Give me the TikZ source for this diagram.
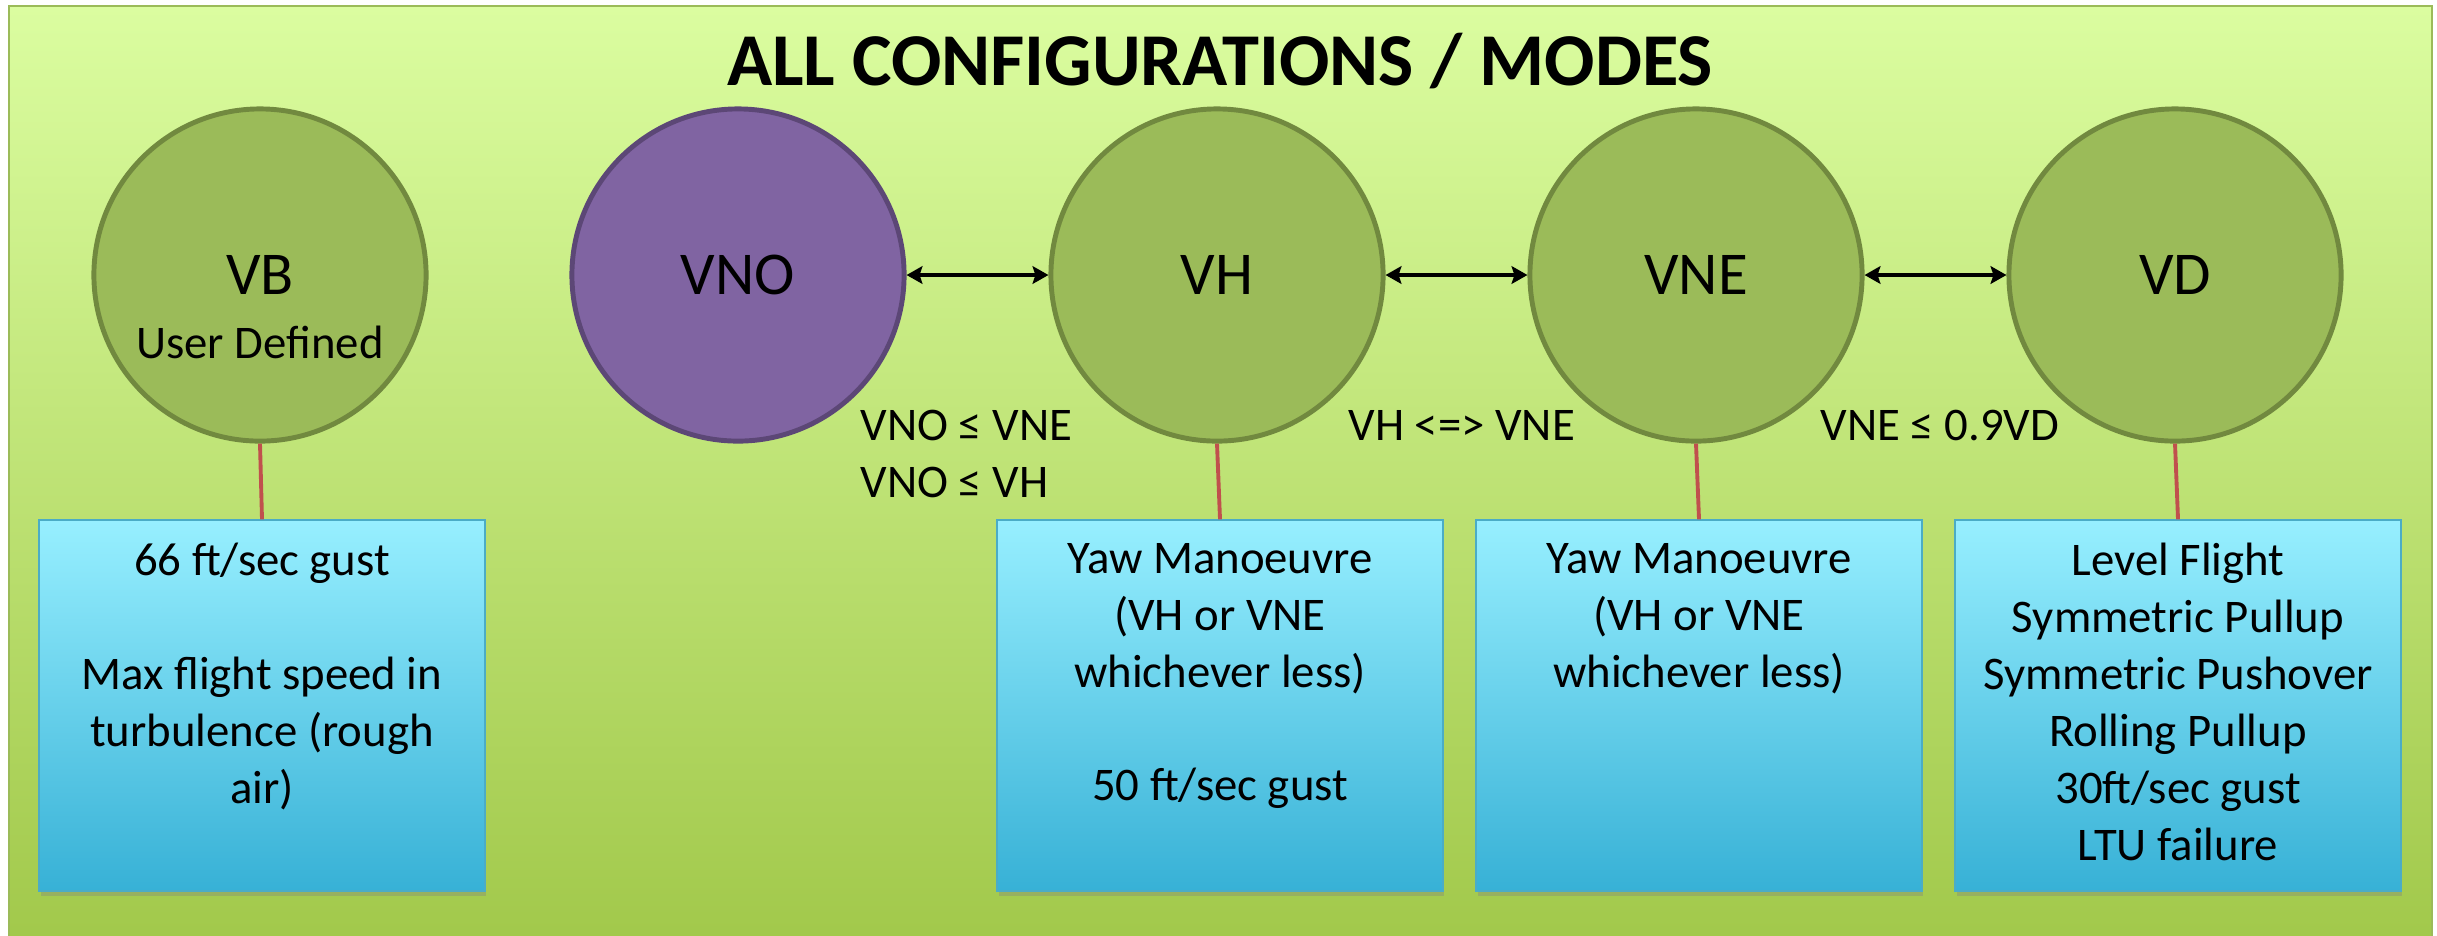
\documentclass[tikz,border=0pt]{standalone}
\usepackage{fontspec}
\setmainfont{Carlito}
\usetikzlibrary{arrows.meta, positioning, shadows}
\definecolor{bgtop}{HTML}{DBFDA0}
\definecolor{bgbot}{HTML}{A1C84A}
\definecolor{bgline}{HTML}{9BBB59}
\definecolor{modegreen}{HTML}{9BBB59}
\definecolor{modeline}{HTML}{71893F}
\definecolor{vnofill}{HTML}{8064A2}
\definecolor{vnoline}{HTML}{5C4776}
\definecolor{boxtop}{HTML}{97EFFF}
\definecolor{boxbot}{HTML}{37B1D6}
\definecolor{boxline}{HTML}{4BACC6}
\definecolor{linkred}{HTML}{C0504D}

\tikzset{
  vcircle/.style={circle, draw=modeline, fill=modegreen, line width=1.4pt,
                  minimum size=3.32cm, inner sep=0pt,
                  font=\fontsize{17.3}{21}\selectfont},
  casebox/.style={rectangle, draw=boxline, line width=0.6pt,
                  top color=boxtop, bottom color=boxbot,
                  minimum width=4.45cm, minimum height=3.70cm,
                  drop shadow={shadow xshift=0.5pt, shadow yshift=-1.6pt, opacity=0.35}},
  casetext/.style={align=center, inner sep=0pt,
                   font=\fontsize{13.3}{16.2}\selectfont,
                   execute at begin node=\strut},
  cond/.style={anchor=base west, inner sep=0pt, font=\fontsize{13.3}{16.2}\selectfont},
  link/.style={draw=linkred, line width=1.1pt},
  limit/.style={{Stealth[length=4.5pt,width=5pt,inset=0.8pt]}-{Stealth[length=4.5pt,width=5pt,inset=0.8pt]},
                line width=1.4pt}
}

\begin{document}
\begin{tikzpicture}[x=0.01cm, y=-0.01cm]
  \useasboundingbox (0,0) rectangle (2437,935);
  \fill[white] (0,0) rectangle (2437,935);
  % background panel
  \draw[draw=bgline, line width=0.8pt, top color=bgtop, bottom color=bgbot]
    (9,6) rectangle (2432,950);
  \node[font=\bfseries\fontsize{21.2}{26}\selectfont, anchor=base] (title) at (1220,85)
    {ALL CONFIGURATIONS / MODES};

  % speed circles
  \foreach \x/\n/\t in {260/vb/VB, 1217/vh/VH, 1696/vne/VNE, 2175/vd/VD}
    \node[vcircle] (\n) at (\x,275) {\t};
  \node[vcircle, fill=vnofill, draw=vnoline] (vno) at (738,275) {VNO};
  \node[font=\fontsize{13.3}{16}\selectfont, anchor=base] (vbuser) at (260,358) {User Defined};

  \draw[limit] (vno) -- (vh);
  \draw[limit] (vh) -- (vne);
  \draw[limit] (vne) -- (vd);

  % relations
  \node[cond] (c1) at (860,440) {VNO ≤ VNE};
  \node[cond] (c2) at (860,497) {VNO ≤ VH};
  \node[cond] (c3) at (1348,440) {VH <=> VNE};
  \node[cond] (c4) at (1820,440) {VNE ≤ 0.9VD};

  % load cases
  \foreach \x/\n in {262/vb, 1220/vh, 1699/vne, 2178/vd}
    \node[casebox] (\n-box) at (\x,705.5) {};
  \foreach \n in {vb, vh, vne, vd}
    \draw[link] (\n.south) -- (\n-box.north);

  \node[casetext, below=0.23cm of vb-box.north] (vb-text)
    {66 ft/sec gust\\[16.2pt]Max flight speed in\\turbulence (rough\\air)};
  \node[casetext, below=0.23cm of vh-box.north] (vh-text)
    {Yaw Manoeuvre\\(VH or VNE\\whichever less)\\[16.2pt]50 ft/sec gust};
  \node[casetext, below=0.23cm of vne-box.north] (vne-text)
    {Yaw Manoeuvre\\(VH or VNE\\whichever less)};
  \node[casetext, below=0.23cm of vd-box.north] (vd-text)
    {Level Flight\\Symmetric Pullup\\Symmetric Pushover\\Rolling Pullup\\30ft/sec gust\\LTU failure};
\end{tikzpicture}
\end{document}
